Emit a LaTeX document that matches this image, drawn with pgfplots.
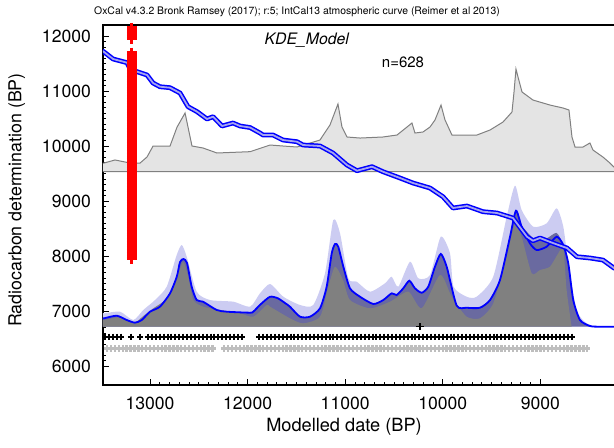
\documentclass[border=0pt]{standalone}
\usepackage{fontspec}
\setmainfont{TeX Gyre Heros}
\usepackage{pgfplots}
\pgfplotsset{compat=1.18}
\definecolor{lav}{RGB}{204,204,242}
\definecolor{slate}{RGB}{106,106,160}
\definecolor{kdegray}{RGB}{128,128,128}
\definecolor{topfill}{RGB}{228,228,228}
\definecolor{topline}{RGB}{128,128,128}
\definecolor{calin}{RGB}{165,165,240}
\definecolor{rowgray}{RGB}{190,190,190}
\begin{document}
\begin{tikzpicture}
\begin{axis}[
  at={(51.5pt,31pt)}, anchor=south west,
  scale only axis, width=260.5pt, height=180pt,
  x dir=reverse,
  xmin=8143, xmax=13482, ymin=5655, ymax=12200,
  xtick={9000,10000,11000,12000,13000},
  ytick={6000,7000,8000,9000,10000,11000,12000},
  minor x tick num=9, minor y tick num=9,
  tick pos=left, tick align=inside,
  major tick length=3pt, minor tick length=1.5pt,
  major tick style={line width=0.5pt, black},
  minor tick style={line width=0.4pt, black},
  axis line style={line width=1pt},
  scaled ticks=false,
  /pgf/number format/1000 sep={},
  /pgf/number format/assume math mode=true,
  ticklabel style={font=\fontsize{8.8}{10}\selectfont},
  yticklabel style={xshift=-2.5pt},
  xticklabel style={yshift=-2.5pt},
]
% top grey area
\addplot[fill=topfill, draw=topline, line width=0.5pt] coordinates {
(13490,9533) (13490,9691) (13471,9691) (13359,9746) (13205,9691) (13102,9691) (13031,9800) (12969,10000) (12795,10000) (12723,10345) (12641,10600) (12570,10000) (12457,9964) (12314,9873) (11975,9897) (11770,10018) (11637,10000) (11494,9982) (11258,10109) (11238,10164) (11156,10382) (11074,10764) (11033,10345) (10982,10164) (10848,10145) (10613,10164) (10469,10200) (10367,10345) (10316,10418) (10285,10236) (10203,10255) (10131,10345) (10080,10473) (10018,10745) (9977,10473) (9906,10200) (9650,10200) (9516,10291) (9383,10436) (9291,10618) (9270,10982) (9250,11400) (9229,11255) (9188,10982) (9076,10836) (8902,10745) (8768,10691) (8707,10655) (8676,10164) (8645,9982) (8563,9982) (8492,10055) (8461,9927) (8359,9800) (8287,9691) (8246,9618) (8143,9560) (8143,9533)
} -- cycle;
% KDE outer envelope
\addplot[fill=lav, draw=none, smooth, tension=0.4] coordinates {
(13490,6715) (13490,6964) (13471,6958) (13307,6988) (13171,6837) (13069,7019) (12949,7200) (12829,7442) (12727,8018) (12675,8200) (12624,7988) (12522,7352) (12385,7200) (12147,7170) (11975,7079) (11873,7322) (11770,7491) (11634,7260) (11463,7110) (11327,7110) (11207,7686) (11122,8655) (11053,8413) (10968,7595) (10882,7533) (10746,7352) (10592,7504) (10524,7624) (10456,7442) (10336,7897) (10251,7595) (10131,7655) (10021,8351) (9926,8049) (9890,7442) (9755,7260) (9653,7260) (9483,7624) (9345,8715) (9260,9280) (9192,8837) (9073,8533) (8935,8595) (8833,8868) (8765,8533) (8714,7868) (8628,7019) (8526,6777) (8390,6715) (8143,6715)
} -- cycle;
% KDE sigma band
\addplot[fill=slate, draw=none, smooth, tension=0.4] coordinates {
(13490,6715) (13490,6864) (13471,6868) (13341,6915) (13239,6837) (13154,6788) (13085,6837) (13000,6988) (12898,7079) (12795,7322) (12726,7624) (12693,7891) (12657,7946) (12621,7873) (12573,7442) (12522,7200) (12457,7170) (12317,7019) (12214,6988) (11975,6970) (11942,6988) (11863,7128) (11770,7260) (11689,7231) (11617,7146) (11566,7079) (11463,6897) (11361,6897) (11258,7050) (11190,7442) (11138,8049) (11104,8219) (11071,8170) (11019,7806) (10951,7413) (10848,7260) (10712,7128) (10610,7200) (10524,7322) (10473,7291) (10405,7413) (10343,7551) (10285,7413) (10216,7333) (10149,7442) (10080,7806) (10021,8037) (9960,7806) (9858,7100) (9755,7060) (9619,7060) (9516,7200) (9414,7564) (9311,8351) (9250,8824) (9192,8560) (9107,8380) (9038,8280) (8935,8320) (8833,8420) (8765,8200) (8714,7868) (8663,7200) (8594,6837) (8492,6728) (8390,6715) (8143,6715)
} -- cycle;
% KDE grey distribution
\addplot[fill=kdegray, draw=none, smooth, tension=0.4] coordinates {
(13490,6715) (13490,6837) (13471,6837) (13307,6886) (13171,6777) (13069,6909) (12966,7050) (12829,7231) (12710,7686) (12659,7897) (12608,7624) (12556,7200) (12454,7079) (12283,7019) (12078,6958) (11942,6897) (11804,7110) (11770,7079) (11566,6868) (11432,6777) (11258,6897) (11173,7442) (11104,7806) (11022,7564) (10951,7200) (10746,7050) (10541,7170) (10353,7352) (10216,7050) (10029,7655) (9926,7322) (9890,7200) (9755,6897) (9619,6868) (9483,7140) (9345,7988) (9260,8595) (9192,8351) (9089,7686) (9004,7746) (8902,7806) (8817,8049) (8765,8140) (8731,7382) (8680,6715)
} -- cycle;
% KDE mean line
\addplot[blue, line width=0.9pt, smooth, tension=0.4] coordinates {
(13490,6864) (13471,6868) (13341,6915) (13239,6837) (13154,6788) (13085,6837) (13000,6988) (12898,7079) (12795,7322) (12726,7624) (12693,7891) (12657,7946) (12621,7873) (12573,7442) (12522,7200) (12457,7170) (12317,7019) (12214,6988) (11975,6970) (11942,6988) (11863,7128) (11770,7260) (11689,7231) (11617,7146) (11566,7079) (11463,6897) (11361,6897) (11258,7050) (11190,7442) (11138,8049) (11104,8219) (11071,8170) (11019,7806) (10951,7413) (10848,7260) (10712,7128) (10610,7200) (10524,7322) (10473,7291) (10405,7413) (10343,7551) (10285,7413) (10216,7333) (10149,7442) (10080,7806) (10021,8037) (9960,7806) (9858,7100) (9755,7060) (9619,7060) (9516,7200) (9414,7564) (9311,8351) (9250,8824) (9192,8533) (9107,8231) (9038,8109) (8935,8170) (8833,8351) (8765,8200) (8714,7868) (8663,7200) (8594,6837) (8492,6728) (8390,6715) (8143,6715)
};
% calibration curve (outer)
\addplot[blue, line width=2.4pt, line join=round] coordinates {
(13490,11730) (13471,11709) (13379,11582) (13236,11515) (13205,11400) (13133,11351) (13031,11291) (12969,11145) (12898,11078) (12795,11060) (12693,10964) (12611,10715) (12518,10624) (12416,10491) (12354,10533) (12262,10364) (12150,10418) (12078,10364) (11975,10336) (11873,10236) (11842,10200) (11740,10200) (11637,10109) (11494,10078) (11432,10018) (11258,10000) (11125,9873) (10982,9655) (10879,9551) (10725,9624) (10613,9533) (10438,9418) (10305,9327) (10131,9236) (9998,9078) (9895,8873) (9752,8909) (9588,8806) (9444,8782) (9281,8691) (9137,8351) (9076,8278) (9004,8327) (8871,8236) (8727,8145) (8625,7987) (8492,7964) (8359,7927) (8246,7782) (8143,7740)
};
% calibration curve (inner)
\addplot[calin, line width=0.9pt, line join=round] coordinates {
(13490,11730) (13471,11709) (13379,11582) (13236,11515) (13205,11400) (13133,11351) (13031,11291) (12969,11145) (12898,11078) (12795,11060) (12693,10964) (12611,10715) (12518,10624) (12416,10491) (12354,10533) (12262,10364) (12150,10418) (12078,10364) (11975,10336) (11873,10236) (11842,10200) (11740,10200) (11637,10109) (11494,10078) (11432,10018) (11258,10000) (11125,9873) (10982,9655) (10879,9551) (10725,9624) (10613,9533) (10438,9418) (10305,9327) (10131,9236) (9998,9078) (9895,8873) (9752,8909) (9588,8806) (9444,8782) (9281,8691) (9137,8351) (9076,8278) (9004,8327) (8871,8236) (8727,8145) (8625,7987) (8492,7964) (8359,7927) (8246,7782) (8143,7740)
};
% grey row of crosses
\addplot[only marks, mark=+, mark size=1.6pt, rowgray, line width=1.2pt] coordinates {
(13440,6322) (13400,6322) (13360,6322) (13320,6322) (13280,6322) (13240,6322) (13200,6322) (13160,6322) (13120,6322) (13080,6322) (13040,6322) (13000,6322) (12960,6322) (12920,6322) (12880,6322) (12840,6322) (12800,6322) (12760,6322) (12720,6322) (12680,6322) (12640,6322) (12600,6322) (12560,6322) (12520,6322) (12480,6322) (12440,6322) (12400,6322) (12360,6322) (12240,6322) (12200,6322) (12160,6322) (12120,6322) (12080,6322) (12040,6322) (12000,6322) (11960,6322) (11920,6322) (11880,6322) (11840,6322) (11800,6322) (11760,6322) (11720,6322) (11680,6322) (11640,6322) (11600,6322) (11560,6322) (11520,6322) (11480,6322) (11440,6322) (11400,6322) (11360,6322) (11320,6322) (11280,6322) (11240,6322) (11200,6322) (11160,6322) (11120,6322) (11080,6322) (11040,6322) (11000,6322) (10960,6322) (10920,6322) (10880,6322) (10840,6322) (10800,6322) (10760,6322) (10720,6322) (10680,6322) (10640,6322) (10600,6322) (10560,6322) (10520,6322) (10480,6322) (10440,6322) (10400,6322) (10360,6322) (10320,6322) (10280,6322) (10240,6322) (10200,6322) (10160,6322) (10120,6322) (10080,6322) (10040,6322) (10000,6322) (9960,6322) (9920,6322) (9880,6322) (9840,6322) (9800,6322) (9760,6322) (9720,6322) (9680,6322) (9640,6322) (9600,6322) (9560,6322) (9520,6322) (9480,6322) (9440,6322) (9400,6322) (9360,6322) (9320,6322) (9280,6322) (9240,6322) (9200,6322) (9160,6322) (9120,6322) (9080,6322) (9040,6322) (9000,6322) (8960,6322) (8920,6322) (8880,6322) (8840,6322) (8800,6322) (8760,6322) (8720,6322) (8680,6322) (8640,6322) (8600,6322) (8560,6322) (8520,6322)
};
% black row of crosses
\addplot[only marks, mark=+, mark size=1.5pt, black, line width=1.0pt] coordinates {
(13460,6533) (13420,6533) (13380,6533) (13340,6533) (13300,6533) (13200,6533) (13100,6533)
(13020,6533) (12980,6533) (12940,6533) (12900,6533) (12860,6533) (12820,6533) (12780,6533) (12740,6533) (12700,6533) (12660,6533) (12620,6533) (12580,6533) (12540,6533) (12500,6533) (12460,6533) (12420,6533) (12380,6533) (12340,6533) (12300,6533) (12260,6533) (12220,6533) (12180,6533) (12140,6533) (12100,6533) (12060,6533)
(11880,6533) (11840,6533) (11800,6533) (11760,6533) (11720,6533) (11680,6533) (11640,6533) (11600,6533) (11560,6533) (11520,6533) (11480,6533) (11440,6533) (11400,6533) (11360,6533) (11320,6533) (11280,6533) (11240,6533) (11200,6533) (11160,6533) (11120,6533) (11080,6533) (11040,6533) (11000,6533) (10960,6533) (10920,6533) (10880,6533) (10840,6533) (10800,6533) (10760,6533) (10720,6533) (10680,6533) (10640,6533) (10600,6533) (10560,6533) (10520,6533) (10480,6533) (10440,6533) (10400,6533) (10360,6533) (10320,6533) (10280,6533) (10240,6533) (10200,6533) (10160,6533) (10120,6533) (10080,6533) (10040,6533) (10000,6533) (9960,6533) (9920,6533) (9880,6533) (9840,6533) (9800,6533) (9760,6533) (9720,6533) (9680,6533) (9640,6533) (9600,6533) (9560,6533) (9520,6533) (9480,6533) (9440,6533) (9400,6533) (9360,6533) (9320,6533) (9280,6533) (9240,6533) (9200,6533) (9160,6533) (9120,6533) (9080,6533) (9040,6533) (9000,6533) (8960,6533) (8920,6533) (8880,6533) (8840,6533) (8800,6533) (8760,6533) (8720,6533) (8680,6533)
};
% mean marker
\addplot[only marks, mark=+, mark size=1.8pt, black, line width=0.6pt] coordinates {(10234,6715)};
% red column
\addplot[only marks, mark=+, mark size=2.4pt, red, line width=1.3pt] coordinates {
(13187,12150) (13187,12100) (13187,12050) (13187,12000) (13187,11950)
(13187,11700) (13187,11650) (13187,11600) (13187,11550) (13187,11500) (13187,11450) (13187,11400) (13187,11350) (13187,11300) (13187,11250) (13187,11200) (13187,11150) (13187,11100) (13187,11050) (13187,11000) (13187,10950) (13187,10900) (13187,10850) (13187,10800) (13187,10750) (13187,10700) (13187,10650) (13187,10600) (13187,10550) (13187,10500) (13187,10450) (13187,10400) (13187,10350) (13187,10300) (13187,10250) (13187,10200) (13187,10150) (13187,10100) (13187,10050) (13187,10000) (13187,9950) (13187,9900) (13187,9850) (13187,9800) (13187,9750) (13187,9700) (13187,9650) (13187,9600) (13187,9550) (13187,9500) (13187,9450) (13187,9400) (13187,9350) (13187,9300) (13187,9250) (13187,9200) (13187,9150) (13187,9100) (13187,9050) (13187,9000) (13187,8950) (13187,8900) (13187,8850) (13187,8800) (13187,8750) (13187,8700) (13187,8650) (13187,8600) (13187,8550) (13187,8500) (13187,8450) (13187,8400) (13187,8350) (13187,8300) (13187,8250) (13187,8200) (13187,8150) (13187,8100) (13187,8050) (13187,8000) (13187,7950)
};
\end{axis}
\node[font=\fontsize{5.2}{7}\selectfont] at (148.5pt,217.4pt) {OxCal v4.3.2 Bronk Ramsey (2017); r:5; IntCal13 atmospheric curve (Reimer et al 2013)};
\node[font=\fontsize{7.9}{10}\selectfont\itshape] at (153.4pt,203.5pt) {KDE\_Model};
\node[font=\fontsize{7.5}{9}\selectfont] at (201.5pt,192.2pt) {n=628};
\node[rotate=90, font=\fontsize{8.9}{10}\selectfont] at (8.4pt,123.5pt) {Radiocarbon determination (BP)};
\node[font=\fontsize{9.1}{10}\selectfont] at (172pt,10pt) {Modelled date (BP)};
\pgfresetboundingbox
\path[use as bounding box] (0,0) rectangle (307pt,223.5pt);
\end{tikzpicture}
\end{document}
